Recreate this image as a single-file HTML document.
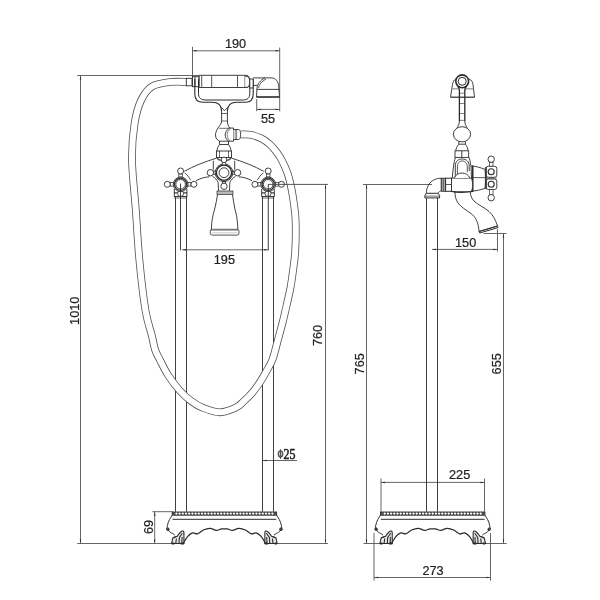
<!DOCTYPE html>
<html><head><meta charset="utf-8"><style>
html,body{margin:0;padding:0;background:#fff;}
svg{display:block;will-change:transform;}
text{font-family:"Liberation Sans",sans-serif;fill:#231f20;stroke:#231f20;stroke-width:0.25px;}
</style></head><body>
<svg width="600" height="600" viewBox="0 0 600 600">
<g fill="none" stroke="#2b2b2b" stroke-width="0.9" stroke-linecap="butt">
<g stroke="#555">
<line x1="77.2" y1="75.5" x2="199" y2="75.5"/>
<line x1="80.5" y1="75.5" x2="80.5" y2="543.5"/>
<line x1="77.2" y1="543.5" x2="183.6" y2="543.5"/>
<line x1="265.2" y1="543.5" x2="328" y2="543.5"/>
<text transform="translate(78.7,310.8) rotate(-90) scale(0.955,1)" text-anchor="middle" font-size="13.3">1010</text>
<line x1="192.5" y1="50.8" x2="279.7" y2="50.8"/>
<line x1="192.5" y1="46.8" x2="192.5" y2="77"/>
<line x1="279.7" y1="47.5" x2="279.7" y2="111.3"/>
<text transform="translate(235.5,48.3) scale(0.955,1)" text-anchor="middle" font-size="13.3">190</text>
<line x1="256.7" y1="109.4" x2="279.7" y2="109.4"/>
<line x1="256.7" y1="99" x2="256.7" y2="111.3"/>
<text transform="translate(268,122.5) scale(0.955,1)" text-anchor="middle" font-size="13.3">55</text>
<line x1="182" y1="249.8" x2="268.3" y2="249.8"/>
<text transform="translate(224.4,264.4) scale(0.955,1)" text-anchor="middle" font-size="13.3">195</text>
<line x1="325.5" y1="184.5" x2="325.5" y2="543.5"/>
<text transform="translate(322.3,335.5) rotate(-90) scale(0.955,1)" text-anchor="middle" font-size="13.3">760</text>
<line x1="262" y1="460.5" x2="297" y2="460.5"/>
<text transform="translate(152.6,527) rotate(-90) scale(0.955,1)" text-anchor="middle" font-size="13.3">69</text>
<line x1="154.7" y1="511.7" x2="154.7" y2="543.5"/>
<line x1="152.4" y1="511.7" x2="172.5" y2="511.7"/>
<text transform="translate(283.4,458.8) scale(0.88,1)" font-size="13.6" style="font-family:&quot;Liberation Serif&quot;,serif;stroke:#231f20;stroke-width:0.55">25</text>
<ellipse cx="280.5" cy="454" rx="2.1" ry="2.9" stroke-width="1.5"/>
<line x1="280.5" y1="449.2" x2="280.5" y2="458.9" stroke-width="1.1"/>
<line x1="363" y1="184.5" x2="432" y2="184.5"/>
<line x1="366.5" y1="184.5" x2="366.5" y2="543.5"/>
<line x1="363.5" y1="543.5" x2="391.8" y2="543.5"/>
<line x1="473.2" y1="543.5" x2="506.7" y2="543.5"/>
<text transform="translate(364,363.8) rotate(-90) scale(0.955,1)" text-anchor="middle" font-size="13.3">765</text>
<line x1="483.5" y1="233.5" x2="506.5" y2="233.5"/>
<line x1="503.5" y1="233.5" x2="503.5" y2="543.5"/>
<text transform="translate(501.3,363.8) rotate(-90) scale(0.955,1)" text-anchor="middle" font-size="13.3">655</text>
<line x1="432" y1="249.4" x2="497.5" y2="249.4"/>
<line x1="497.5" y1="229.2" x2="497.5" y2="251.5"/>
<text transform="translate(465.6,247.3) scale(0.955,1)" text-anchor="middle" font-size="13.3">150</text>
<line x1="381" y1="482.4" x2="484.5" y2="482.4"/>
<line x1="381" y1="478.4" x2="381" y2="511.5"/>
<line x1="484.5" y1="478.4" x2="484.5" y2="511.5"/>
<text transform="translate(459.6,478.8) scale(0.955,1)" text-anchor="middle" font-size="13.3">225</text>
<line x1="374" y1="577.5" x2="490.5" y2="577.5"/>
<line x1="374" y1="533" x2="374" y2="580.6"/>
<line x1="490.5" y1="533" x2="490.5" y2="580.6"/>
<text transform="translate(433,575.2) scale(0.955,1)" text-anchor="middle" font-size="13.3">273</text>
</g>
<rect x="172.2" y="512.0" width="104.40000000000003" height="3.2" stroke-width="0.9" fill="#555"/>
<circle cx="176.40" cy="513.6" r="1.1" fill="#fff" stroke="none"/>
<circle cx="179.60" cy="513.6" r="1.1" fill="#fff" stroke="none"/>
<circle cx="182.80" cy="513.6" r="1.1" fill="#fff" stroke="none"/>
<circle cx="186.00" cy="513.6" r="1.1" fill="#fff" stroke="none"/>
<circle cx="189.20" cy="513.6" r="1.1" fill="#fff" stroke="none"/>
<circle cx="192.40" cy="513.6" r="1.1" fill="#fff" stroke="none"/>
<circle cx="195.60" cy="513.6" r="1.1" fill="#fff" stroke="none"/>
<circle cx="198.80" cy="513.6" r="1.1" fill="#fff" stroke="none"/>
<circle cx="202.00" cy="513.6" r="1.1" fill="#fff" stroke="none"/>
<circle cx="205.20" cy="513.6" r="1.1" fill="#fff" stroke="none"/>
<circle cx="208.40" cy="513.6" r="1.1" fill="#fff" stroke="none"/>
<circle cx="211.60" cy="513.6" r="1.1" fill="#fff" stroke="none"/>
<circle cx="214.80" cy="513.6" r="1.1" fill="#fff" stroke="none"/>
<circle cx="218.00" cy="513.6" r="1.1" fill="#fff" stroke="none"/>
<circle cx="221.20" cy="513.6" r="1.1" fill="#fff" stroke="none"/>
<circle cx="224.40" cy="513.6" r="1.1" fill="#fff" stroke="none"/>
<circle cx="227.60" cy="513.6" r="1.1" fill="#fff" stroke="none"/>
<circle cx="230.80" cy="513.6" r="1.1" fill="#fff" stroke="none"/>
<circle cx="234.00" cy="513.6" r="1.1" fill="#fff" stroke="none"/>
<circle cx="237.20" cy="513.6" r="1.1" fill="#fff" stroke="none"/>
<circle cx="240.40" cy="513.6" r="1.1" fill="#fff" stroke="none"/>
<circle cx="243.60" cy="513.6" r="1.1" fill="#fff" stroke="none"/>
<circle cx="246.80" cy="513.6" r="1.1" fill="#fff" stroke="none"/>
<circle cx="250.00" cy="513.6" r="1.1" fill="#fff" stroke="none"/>
<circle cx="253.20" cy="513.6" r="1.1" fill="#fff" stroke="none"/>
<circle cx="256.40" cy="513.6" r="1.1" fill="#fff" stroke="none"/>
<circle cx="259.60" cy="513.6" r="1.1" fill="#fff" stroke="none"/>
<circle cx="262.80" cy="513.6" r="1.1" fill="#fff" stroke="none"/>
<circle cx="266.00" cy="513.6" r="1.1" fill="#fff" stroke="none"/>
<circle cx="269.20" cy="513.6" r="1.1" fill="#fff" stroke="none"/>
<circle cx="272.40" cy="513.6" r="1.1" fill="#fff" stroke="none"/>
<line x1="172.5" y1="519.3" x2="276.3" y2="519.3" stroke-width="1.0"/>
<path d="M172.2,515.2 C170.6,517.6 168.2,521 167.39999999999998,525.6 C166.89999999999998,528.2 166.6,530.2 167.79999999999998,530.4 C169.0,530.6 169.2,528.6 168.1,528.2 C167.29999999999998,527.9 168.6,531.2 170.2,532.4 C171.39999999999998,533.2 173.2,533.4 174.79999999999998,535.2" stroke-width="1.0"/>
<circle cx="167.8" cy="529.2" r="1.3" stroke-width="0.9"/>
<path d="M276.6,515.2 C278.20000000000005,517.6 280.6,521 281.40000000000003,525.6 C281.90000000000003,528.2 282.20000000000005,530.2 281.0,530.4 C279.8,530.6 279.6,528.6 280.70000000000005,528.2 C281.5,527.9 280.20000000000005,531.2 278.6,532.4 C277.40000000000003,533.2 275.6,533.4 274.0,535.2" stroke-width="1.0"/>
<circle cx="281.0" cy="529.2" r="1.3" stroke-width="0.9"/>
<path d="M171.6,543.5 L172.79999999999998,538 C173.39999999999998,537 175.2,536.6 177.2,536.2 C178.7,534 180.2,532 181.7,531.2 C183.0,530.6 183.79999999999998,531 183.89999999999998,532.5 L184.0,543.5 Z" stroke-width="1.1" fill="#e8e8e8"/>
<path d="M172.79999999999998,538 L177.2,536.2 M175.79999999999998,543.5 L176.39999999999998,538.5 M179.0,543.5 L179.39999999999998,537.5 L182.39999999999998,533.2 M181.79999999999998,543.5 L182.1,537" stroke-width="1.1"/>
<path d="M171.79999999999998,543.5 L174.2,543.5 M180.7,543.5 L184.0,543.5" stroke-width="1.8"/>
<path d="M277.20000000000005,543.5 L276.0,538 C275.40000000000003,537 273.6,536.6 271.6,536.2 C270.1,534 268.6,532 267.1,531.2 C265.8,530.6 265.0,531 264.90000000000003,532.5 L264.8,543.5 Z" stroke-width="1.1" fill="#e8e8e8"/>
<path d="M276.0,538 L271.6,536.2 M273.0,543.5 L272.40000000000003,538.5 M269.8,543.5 L269.40000000000003,537.5 L266.40000000000003,533.2 M267.0,543.5 L266.70000000000005,537" stroke-width="1.1"/>
<path d="M277.0,543.5 L274.6,543.5 M268.1,543.5 L264.8,543.5" stroke-width="1.8"/>
<path d="M183.30,543.40 C184.00,542.28 185.97,538.45 187.50,536.70 C189.03,534.95 190.83,533.38 192.50,532.90 C194.17,532.42 195.70,534.28 197.50,533.80 C199.30,533.32 201.22,530.92 203.30,530.00 C205.38,529.08 207.84,528.23 210.00,528.30 C212.16,528.37 214.35,530.30 216.25,530.40 C218.15,530.50 220.04,529.15 221.40,528.90 C222.76,528.65 223.40,528.90 224.40,528.90 C225.40,528.90 226.04,528.65 227.40,528.90 C228.76,529.15 230.65,530.50 232.55,530.40 C234.45,530.30 236.64,528.37 238.80,528.30 C240.96,528.23 243.42,529.08 245.50,530.00 C247.58,530.92 249.50,533.32 251.30,533.80 C253.10,534.28 254.63,532.42 256.30,532.90 C257.97,533.38 259.77,534.95 261.30,536.70 C262.83,538.45 264.80,542.28 265.50,543.40" stroke-width="1.2"/>
<rect x="380.5" y="512.0" width="104.40000000000003" height="3.2" stroke-width="0.9" fill="#555"/>
<circle cx="384.70" cy="513.6" r="1.1" fill="#fff" stroke="none"/>
<circle cx="387.90" cy="513.6" r="1.1" fill="#fff" stroke="none"/>
<circle cx="391.10" cy="513.6" r="1.1" fill="#fff" stroke="none"/>
<circle cx="394.30" cy="513.6" r="1.1" fill="#fff" stroke="none"/>
<circle cx="397.50" cy="513.6" r="1.1" fill="#fff" stroke="none"/>
<circle cx="400.70" cy="513.6" r="1.1" fill="#fff" stroke="none"/>
<circle cx="403.90" cy="513.6" r="1.1" fill="#fff" stroke="none"/>
<circle cx="407.10" cy="513.6" r="1.1" fill="#fff" stroke="none"/>
<circle cx="410.30" cy="513.6" r="1.1" fill="#fff" stroke="none"/>
<circle cx="413.50" cy="513.6" r="1.1" fill="#fff" stroke="none"/>
<circle cx="416.70" cy="513.6" r="1.1" fill="#fff" stroke="none"/>
<circle cx="419.90" cy="513.6" r="1.1" fill="#fff" stroke="none"/>
<circle cx="423.10" cy="513.6" r="1.1" fill="#fff" stroke="none"/>
<circle cx="426.30" cy="513.6" r="1.1" fill="#fff" stroke="none"/>
<circle cx="429.50" cy="513.6" r="1.1" fill="#fff" stroke="none"/>
<circle cx="432.70" cy="513.6" r="1.1" fill="#fff" stroke="none"/>
<circle cx="435.90" cy="513.6" r="1.1" fill="#fff" stroke="none"/>
<circle cx="439.10" cy="513.6" r="1.1" fill="#fff" stroke="none"/>
<circle cx="442.30" cy="513.6" r="1.1" fill="#fff" stroke="none"/>
<circle cx="445.50" cy="513.6" r="1.1" fill="#fff" stroke="none"/>
<circle cx="448.70" cy="513.6" r="1.1" fill="#fff" stroke="none"/>
<circle cx="451.90" cy="513.6" r="1.1" fill="#fff" stroke="none"/>
<circle cx="455.10" cy="513.6" r="1.1" fill="#fff" stroke="none"/>
<circle cx="458.30" cy="513.6" r="1.1" fill="#fff" stroke="none"/>
<circle cx="461.50" cy="513.6" r="1.1" fill="#fff" stroke="none"/>
<circle cx="464.70" cy="513.6" r="1.1" fill="#fff" stroke="none"/>
<circle cx="467.90" cy="513.6" r="1.1" fill="#fff" stroke="none"/>
<circle cx="471.10" cy="513.6" r="1.1" fill="#fff" stroke="none"/>
<circle cx="474.30" cy="513.6" r="1.1" fill="#fff" stroke="none"/>
<circle cx="477.50" cy="513.6" r="1.1" fill="#fff" stroke="none"/>
<circle cx="480.70" cy="513.6" r="1.1" fill="#fff" stroke="none"/>
<line x1="380.8" y1="519.3" x2="484.6" y2="519.3" stroke-width="1.0"/>
<path d="M380.5,515.2 C378.9,517.6 376.5,521 375.7,525.6 C375.2,528.2 374.9,530.2 376.1,530.4 C377.3,530.6 377.5,528.6 376.4,528.2 C375.6,527.9 376.9,531.2 378.5,532.4 C379.7,533.2 381.5,533.4 383.1,535.2" stroke-width="1.0"/>
<circle cx="376.1" cy="529.2" r="1.3" stroke-width="0.9"/>
<path d="M484.90000000000003,515.2 C486.50000000000006,517.6 488.90000000000003,521 489.70000000000005,525.6 C490.20000000000005,528.2 490.50000000000006,530.2 489.3,530.4 C488.1,530.6 487.90000000000003,528.6 489.00000000000006,528.2 C489.8,527.9 488.50000000000006,531.2 486.90000000000003,532.4 C485.70000000000005,533.2 483.90000000000003,533.4 482.3,535.2" stroke-width="1.0"/>
<circle cx="489.3" cy="529.2" r="1.3" stroke-width="0.9"/>
<path d="M379.9,543.5 L381.1,538 C381.7,537 383.5,536.6 385.5,536.2 C387.0,534 388.5,532 390.0,531.2 C391.3,530.6 392.1,531 392.2,532.5 L392.3,543.5 Z" stroke-width="1.1" fill="#e8e8e8"/>
<path d="M381.1,538 L385.5,536.2 M384.1,543.5 L384.7,538.5 M387.3,543.5 L387.7,537.5 L390.7,533.2 M390.1,543.5 L390.4,537" stroke-width="1.1"/>
<path d="M380.1,543.5 L382.5,543.5 M389.0,543.5 L392.3,543.5" stroke-width="1.8"/>
<path d="M485.50000000000006,543.5 L484.3,538 C483.70000000000005,537 481.90000000000003,536.6 479.90000000000003,536.2 C478.40000000000003,534 476.90000000000003,532 475.40000000000003,531.2 C474.1,530.6 473.3,531 473.20000000000005,532.5 L473.1,543.5 Z" stroke-width="1.1" fill="#e8e8e8"/>
<path d="M484.3,538 L479.90000000000003,536.2 M481.3,543.5 L480.70000000000005,538.5 M478.1,543.5 L477.70000000000005,537.5 L474.70000000000005,533.2 M475.3,543.5 L475.00000000000006,537" stroke-width="1.1"/>
<path d="M485.3,543.5 L482.90000000000003,543.5 M476.40000000000003,543.5 L473.1,543.5" stroke-width="1.8"/>
<path d="M391.60,543.40 C392.30,542.28 394.27,538.45 395.80,536.70 C397.33,534.95 399.13,533.38 400.80,532.90 C402.47,532.42 404.00,534.28 405.80,533.80 C407.60,533.32 409.52,530.92 411.60,530.00 C413.68,529.08 416.14,528.23 418.30,528.30 C420.46,528.37 422.65,530.30 424.55,530.40 C426.45,530.50 428.34,529.15 429.70,528.90 C431.06,528.65 431.70,528.90 432.70,528.90 C433.70,528.90 434.34,528.65 435.70,528.90 C437.06,529.15 438.95,530.50 440.85,530.40 C442.75,530.30 444.94,528.37 447.10,528.30 C449.26,528.23 451.72,529.08 453.80,530.00 C455.88,530.92 457.80,533.32 459.60,533.80 C461.40,534.28 462.93,532.42 464.60,532.90 C466.27,533.38 468.07,534.95 469.60,536.70 C471.13,538.45 473.10,542.28 473.80,543.40" stroke-width="1.2"/>
<line x1="175.5" y1="193" x2="175.5" y2="511.7"/>
<line x1="186.5" y1="193" x2="186.5" y2="511.7"/>
<line x1="262.5" y1="193" x2="262.5" y2="511.7"/>
<line x1="273.5" y1="193" x2="273.5" y2="511.7"/>
<path d="M187.00,82.00 C184.17,82.00 175.83,81.25 170.00,82.00 C164.17,82.75 156.83,83.42 152.00,86.50 C147.17,89.58 143.92,94.25 141.00,100.50 C138.08,106.75 136.00,114.08 134.50,124.00 C133.00,133.92 131.78,145.67 132.00,160.00 C132.22,174.33 134.57,193.33 135.80,210.00 C137.03,226.67 137.80,243.33 139.40,260.00 C141.00,276.67 143.35,297.50 145.40,310.00 C147.45,322.50 150.07,328.33 151.70,335.00 C153.33,341.67 153.82,345.83 155.20,350.00 C156.58,354.17 157.87,355.83 160.00,360.00 C162.13,364.17 164.68,369.88 168.00,375.00 C171.32,380.12 175.98,386.32 179.90,390.70 C183.82,395.08 187.65,398.45 191.50,401.30 C195.35,404.15 198.25,405.97 203.00,407.80 C207.75,409.63 214.50,412.33 220.00,412.30 C225.50,412.27 232.00,409.48 236.00,407.60 C240.00,405.72 241.22,403.57 244.00,401.00 C246.78,398.43 250.03,395.33 252.70,392.20 C255.37,389.07 257.85,385.45 260.00,382.20 C262.15,378.95 263.52,376.48 265.60,372.70 C267.68,368.92 270.45,364.95 272.50,359.50 C274.55,354.05 276.22,346.17 277.90,340.00 C279.58,333.83 281.13,328.33 282.60,322.50 C284.07,316.67 285.38,310.83 286.70,305.00 C288.02,299.17 289.43,293.33 290.50,287.50 C291.57,281.67 292.30,276.25 293.10,270.00 C293.90,263.75 294.88,258.33 295.30,250.00 C295.72,241.67 295.85,227.83 295.60,220.00 C295.35,212.17 294.45,208.00 293.80,203.00 C293.15,198.00 292.50,194.17 291.70,190.00 C290.90,185.83 289.90,181.33 289.00,178.00 C288.10,174.67 287.43,172.83 286.30,170.00 C285.17,167.17 283.70,163.83 282.20,161.00 C280.70,158.17 279.33,155.75 277.30,153.00 C275.27,150.25 272.72,146.95 270.00,144.50 C267.28,142.05 264.25,139.92 261.00,138.30 C257.75,136.68 253.83,135.45 250.50,134.80 C247.17,134.15 242.58,134.47 241.00,134.40" stroke-width="7.7" stroke="#505050"/>
<path d="M187.00,82.00 C184.17,82.00 175.83,81.25 170.00,82.00 C164.17,82.75 156.83,83.42 152.00,86.50 C147.17,89.58 143.92,94.25 141.00,100.50 C138.08,106.75 136.00,114.08 134.50,124.00 C133.00,133.92 131.78,145.67 132.00,160.00 C132.22,174.33 134.57,193.33 135.80,210.00 C137.03,226.67 137.80,243.33 139.40,260.00 C141.00,276.67 143.35,297.50 145.40,310.00 C147.45,322.50 150.07,328.33 151.70,335.00 C153.33,341.67 153.82,345.83 155.20,350.00 C156.58,354.17 157.87,355.83 160.00,360.00 C162.13,364.17 164.68,369.88 168.00,375.00 C171.32,380.12 175.98,386.32 179.90,390.70 C183.82,395.08 187.65,398.45 191.50,401.30 C195.35,404.15 198.25,405.97 203.00,407.80 C207.75,409.63 214.50,412.33 220.00,412.30 C225.50,412.27 232.00,409.48 236.00,407.60 C240.00,405.72 241.22,403.57 244.00,401.00 C246.78,398.43 250.03,395.33 252.70,392.20 C255.37,389.07 257.85,385.45 260.00,382.20 C262.15,378.95 263.52,376.48 265.60,372.70 C267.68,368.92 270.45,364.95 272.50,359.50 C274.55,354.05 276.22,346.17 277.90,340.00 C279.58,333.83 281.13,328.33 282.60,322.50 C284.07,316.67 285.38,310.83 286.70,305.00 C288.02,299.17 289.43,293.33 290.50,287.50 C291.57,281.67 292.30,276.25 293.10,270.00 C293.90,263.75 294.88,258.33 295.30,250.00 C295.72,241.67 295.85,227.83 295.60,220.00 C295.35,212.17 294.45,208.00 293.80,203.00 C293.15,198.00 292.50,194.17 291.70,190.00 C290.90,185.83 289.90,181.33 289.00,178.00 C288.10,174.67 287.43,172.83 286.30,170.00 C285.17,167.17 283.70,163.83 282.20,161.00 C280.70,158.17 279.33,155.75 277.30,153.00 C275.27,150.25 272.72,146.95 270.00,144.50 C267.28,142.05 264.25,139.92 261.00,138.30 C257.75,136.68 253.83,135.45 250.50,134.80 C247.17,134.15 242.58,134.47 241.00,134.40" stroke-width="6.1" stroke="#fff"/>
<rect x="186.3" y="78.3" width="5.7" height="7.5" fill="#fff"/>
<rect x="192.5" y="76.7" width="6.5" height="10" fill="#fff"/>
<line x1="195" y1="76.7" x2="195" y2="86.7"/>
<path d="M194.8,79 L194.8,94 C194.8,99.5 197.5,102.3 203,102.3 L212,102.3 C218.5,102.3 221.5,105 221.6,111 M227.4,111 C227.5,105 230.5,102.3 237,102.3 L245.5,102.3 C251,102.3 253.2,99.5 253.2,94 L253.2,79" stroke-width="1.1"/>
<path d="M198.5,79 L198.5,93.5 C198.5,98 201,100 206,100 L242.5,100 C247.5,100 249.8,98 249.8,93.5 L249.8,79" stroke-width="1.0"/>
<path d="M199.2,75.3 L246,75.3 C249,75.3 249.5,77 249.5,81.4 C249.5,85.8 249,87.5 246,87.5 L199.2,87.5 Z" fill="#fff"/>
<line x1="201.7" y1="75.6" x2="201.7" y2="87.2" stroke-width="0.8"/>
<line x1="211.7" y1="75.6" x2="211.7" y2="87.2" stroke-width="0.8"/>
<line x1="237.5" y1="75.6" x2="237.5" y2="87.2" stroke-width="0.8"/>
<line x1="245" y1="75.6" x2="245" y2="87.2" stroke-width="0.8"/>
<path d="M245.3,76.4 L247,76.4 C249,76.4 249.6,79 249.6,81.8 C249.6,84.6 249,87.3 247,87.3 L245.3,87.3" fill="#fff"/>
<rect x="249.8" y="79" width="3.3" height="9" fill="#fff"/>
<path d="M256.5,97 L257,88 C257.5,84 260,80.5 264.8,77.9 L271.5,77.9 C276,77.9 278.6,82 278.8,87.3 L279.5,97 Z" fill="#fff"/>
<line x1="253" y1="77.9" x2="265" y2="77.9"/>
<line x1="253" y1="85.4" x2="257.2" y2="85.4"/>
<path d="M258.6,88 C259,84.5 261.5,81.5 266,79.2" stroke-width="0.8"/>
<line x1="256.8" y1="89.4" x2="279.2" y2="89.4"/>
<line x1="256.5" y1="97" x2="279.5" y2="97" stroke-width="1.3"/>
<path d="M221.6,110.5 L221.6,121 M227.4,110.5 L227.4,121"/>
<path d="M221.6,107.5 L224.5,110.8 L227.4,107.5" stroke-width="0.8"/>
<line x1="221.5" y1="113.5" x2="227.5" y2="113.5" stroke-width="0.7"/>
<line x1="221.5" y1="121" x2="227.5" y2="121" stroke-width="0.7"/>
<path d="M221.6,121 C221.6,124 219.5,125.5 218,128 C216.2,131 215.5,133 215.5,135 C215.5,138 217,140 219.5,141.2"/>
<path d="M227.4,121 C227.4,124 228.5,126 229.5,128"/>
<line x1="219.2" y1="128.3" x2="229.5" y2="128.3" stroke-width="0.7"/>
<path d="M229.5,128 L233.5,128 L233.5,141.2 L219.5,141.2" fill="none"/>
<path d="M229.5,128 C226.5,130 225.2,132.5 225.2,134.8 C225.2,137.5 226.5,139.5 228.5,141.2"/>
<path d="M231,128.3 C228.3,130.3 227.2,132.5 227.2,134.8 C227.2,137.3 228.3,139.3 230,141" stroke-width="0.6"/>
<path d="M233.5,129.5 L238.3,129.5 C240,129.5 240.6,131 240.6,134.5 C240.6,138 240,139.5 238.3,139.5 L233.5,139.5" fill="#fff"/>
<line x1="235.2" y1="129.5" x2="235.2" y2="139.5" stroke-width="0.6"/>
<line x1="236.6" y1="129.5" x2="236.6" y2="139.5" stroke-width="0.6"/>
<path d="M219.5,141 L219.5,144.5 L228.5,144.5 L228.5,141"/>
<path d="M219.5,144.5 C218,146.5 217,149 217,151 M228.5,144.5 C230,146.5 231,149 231,151"/>
<rect x="216.5" y="151" width="15" height="6.5" fill="#fff"/>
<line x1="219.5" y1="151" x2="219.5" y2="157.5" stroke-width="0.7"/>
<line x1="228.5" y1="151" x2="228.5" y2="157.5" stroke-width="0.7"/>
<path d="M216.5,157.5 L218.5,160 L229.5,160 L231.5,157.5"/>
<path d="M184.3,171.3 C194,166 204,162 216.3,158.2"/>
<path d="M196,180.7 C200,178.5 205,177 209.5,176.8"/>
<path d="M263.7,171.3 C254,166 244,162 231.7,158.2"/>
<path d="M252,180.7 C248,178.5 243,177 238.5,176.8"/>
<path d="M213.3,160.8 L213.3,169.6 M234.7,160.8 L234.7,169.6"/>
<path d="M212.4,176.2 C215,178 217.4,180 218.1,182.3 L218.6,190.8 M235.6,176.2 C233,178 230.6,180 229.9,182.3 L229.4,190.8"/>
<path d="M216.3,157.3 L220.6,160.6 M231.7,157.3 L227.4,160.6" stroke-width="0.8"/>
<path d="M184.6,173 C187,174.5 189,177 190.6,180.2" stroke-width="0.8"/>
<path d="M263.4,173 C261,174.5 259,177 257.4,180.2" stroke-width="0.8"/>
<path d="M174.29999999999998,189 L174.29999999999998,193 L186.9,193 L186.9,189" fill="#fff"/>
<rect x="174.29999999999998" y="193" width="12.6" height="3.5" fill="#fff"/>
<line x1="174.29999999999998" y1="198" x2="186.9" y2="198" stroke-width="0.7"/>
<circle cx="180.6" cy="193.5" r="3" stroke-width="0.8" fill="#fff"/>
<path d="M261.7,189 L261.7,193 L274.3,193 L274.3,189" fill="#fff"/>
<rect x="261.7" y="193" width="12.6" height="3.5" fill="#fff"/>
<line x1="261.7" y1="198" x2="274.3" y2="198" stroke-width="0.7"/>
<circle cx="268.0" cy="193.5" r="3" stroke-width="0.8" fill="#fff"/>
<rect x="170.29999999999998" y="182.5" width="3.000000000000001" height="3.6" stroke-width="0.7" fill="#fff"/>
<circle cx="167.29999999999998" cy="184.3" r="3.0" stroke-width="0.9" fill="#fff"/>
<rect x="187.9" y="182.5" width="3.000000000000001" height="3.6" stroke-width="0.7" fill="#fff"/>
<circle cx="193.9" cy="184.3" r="3.0" stroke-width="0.9" fill="#fff"/>
<rect x="178.79999999999998" y="174.0" width="3.6" height="3.000000000000001" stroke-width="0.7" fill="#fff"/>
<circle cx="180.6" cy="171.0" r="3.0" stroke-width="0.9" fill="#fff"/>
<circle cx="180.6" cy="184.3" r="7.3" stroke-width="0.9" fill="#fff"/>
<circle cx="180.6" cy="184.3" r="6.1" stroke-width="1.2"/>
<circle cx="180.6" cy="184.3" r="4.8" stroke-width="0.9" fill="#fff"/>
<rect x="257.9" y="182.5" width="3.000000000000001" height="3.6" stroke-width="0.7" fill="#fff"/>
<circle cx="254.89999999999998" cy="184.3" r="3.0" stroke-width="0.9" fill="#fff"/>
<rect x="275.5" y="182.5" width="3.000000000000001" height="3.6" stroke-width="0.7" fill="#fff"/>
<circle cx="281.5" cy="184.3" r="3.0" stroke-width="0.9" fill="#fff"/>
<rect x="266.4" y="174.0" width="3.6" height="3.000000000000001" stroke-width="0.7" fill="#fff"/>
<circle cx="268.2" cy="171.0" r="3.0" stroke-width="0.9" fill="#fff"/>
<circle cx="268.2" cy="184.3" r="7.3" stroke-width="0.9" fill="#fff"/>
<circle cx="268.2" cy="184.3" r="6.1" stroke-width="1.2"/>
<circle cx="268.2" cy="184.3" r="4.8" stroke-width="0.9" fill="#fff"/>
<rect x="213.6" y="170.89999999999998" width="1.5999999999999988" height="3.6" stroke-width="0.7" fill="#fff"/>
<circle cx="210.4" cy="172.7" r="3.2" stroke-width="0.9" fill="#fff"/>
<rect x="232.8" y="170.89999999999998" width="1.5999999999999988" height="3.6" stroke-width="0.7" fill="#fff"/>
<circle cx="237.6" cy="172.7" r="3.2" stroke-width="0.9" fill="#fff"/>
<rect x="222.2" y="181.5" width="3.6" height="1.5999999999999988" stroke-width="0.7" fill="#fff"/>
<circle cx="224.0" cy="186.29999999999998" r="3.2" stroke-width="0.9" fill="#fff"/>
<circle cx="224.0" cy="172.7" r="8.8" stroke-width="0.9" fill="#fff"/>
<circle cx="224.0" cy="172.7" r="7.6000000000000005" stroke-width="1.3"/>
<circle cx="224.0" cy="172.7" r="4.9" stroke-width="0.9" fill="#fff"/>
<circle cx="224" cy="159.9" r="2.8" fill="#fff"/>
<rect x="222.2" y="162.7" width="3.6" height="2.2" stroke-width="0.7" fill="#fff"/>
<line x1="180.5" y1="183.5" x2="180.5" y2="250.2"/>
<line x1="268.3" y1="184.2" x2="268.3" y2="250.2"/>
<rect x="217" y="191" width="16" height="3.6" stroke-width="0.7" fill="#b8b8b8"/>
<path d="M217.5,194.6 C217,199 215.8,204 214.7,209 C213.2,214 211.6,220 211.4,229.3 M232.5,194.6 C233,199 234,204 234.9,209 C236.3,214 237.6,220 237.8,229.3"/>
<rect x="210.2" y="229.3" width="28.8" height="5.8" stroke-width="0.8" fill="#fff" rx="2"/>
<line x1="211" y1="230.5" x2="238.2" y2="230.5" stroke-width="0.6" stroke="#777"/>
<line x1="211.5" y1="232.8" x2="237.5" y2="232.8" stroke-width="0.5" stroke="#999"/>
<line x1="426.5" y1="197.5" x2="426.5" y2="511.7"/>
<line x1="437.5" y1="197.5" x2="437.5" y2="511.7"/>
<path d="M426.3,193.3 L438.2,193.3 L439.6,195.6 L439.6,197.9 L424.9,197.9 L424.9,195.6 Z" stroke-width="1.0" fill="#fff"/>
<line x1="425" y1="196.1" x2="439.5" y2="196.1" stroke-width="0.7"/>
<path d="M426.3,193.3 C426.5,187 429.5,180 438.5,178.4 L441.3,178.3 L441.3,190.8 C440,191 438.6,192 438.2,193.3"/>
<rect x="441.3" y="178.2" width="4.3" height="13.1" stroke-width="0.8" fill="#aaa"/>
<line x1="443.4" y1="178.2" x2="443.4" y2="191.3" stroke-width="0.6"/>
<rect x="445.6" y="178.2" width="5.9" height="13.1" stroke-width="1.0" fill="#fff"/>
<line x1="445.6" y1="184.5" x2="451.5" y2="184.5" stroke-width="0.8"/>
<path d="M455.4,157.4 C454.6,160 453.9,163 453.6,166 C453,170 452.5,174 452.3,178 M469.1,157.4 C469.8,159.5 470.4,162 470.7,165.6"/>
<path d="M455.3,177 L455.3,166 C455.3,161.5 458,159 462.2,159 C466.4,159 469.2,161.5 469.2,166 L469.2,171"/>
<path d="M457.4,177 L457.4,167 C457.4,163.2 459.3,161 462.2,161 C465.1,161 467.3,163.2 467.3,167 L467.3,172.3" stroke-width="0.8"/>
<path d="M471,165.8 C476,166.3 481,167.8 485,169.3 C485.6,175 485.6,183 485,188.5 C481,189.8 476,190.8 472,191.3 Z" fill="#fff"/>
<line x1="472.8" y1="177.6" x2="485.3" y2="177.6" stroke-width="0.8"/>
<line x1="472.7" y1="165.5" x2="472.7" y2="191.3" stroke-width="1.6"/>
<path d="M451.5,178.1 L471.3,178.1 C472.3,180 472.6,182.5 472.6,184.8 C472.6,187.5 472.3,189.5 471.3,191.5 L451.5,191.5 Z" fill="#fff"/>
<path d="M454.3,178 C455.5,175 458.5,173 462,173 C465.5,173 468.5,175 469.9,178" fill="#fff"/>
<path d="M455,191.8 C455,196 455.5,199 458,203 C461,207 466,210 471,213.5 C475.5,217 478.5,222 479,231.5 L497.5,226 C495.5,220 493,215 489,211.5 C484,207 478,205 474,201 C471.5,198.5 470.5,195.5 470.3,191.8" fill="#fff"/>
<path d="M479,231.5 L497.5,226 M479.6,233 L498,227.6" stroke-width="1.0"/>
<path d="M479,231.5 L479.6,233 M497.5,226 L498,227.6" stroke-width="0.8"/>
<path d="M451.3,191.3 C455,192.8 468,192.8 473,191.3" stroke-width="1.2"/>
<circle cx="491.2" cy="159.2" r="3.2" fill="#fff"/>
<rect x="489.4" y="162.5" width="3.6" height="3.8" stroke-width="0.7" fill="#fff"/>
<rect x="486" y="166.3" width="10.8" height="11" stroke-width="0.9" fill="#fff" rx="2.2"/>
<circle cx="491.2" cy="171.8" r="3.0" stroke-width="1.1"/>
<rect x="486" y="179" width="10.8" height="10.5" stroke-width="0.9" fill="#fff" rx="2.2"/>
<circle cx="491.2" cy="184.3" r="3.0" stroke-width="1.1"/>
<line x1="486" y1="178.1" x2="496.8" y2="178.1" stroke-width="0.7"/>
<line x1="486" y1="167" x2="486" y2="189" stroke-width="1.4"/>
<rect x="489.4" y="189.5" width="3.6" height="5" stroke-width="0.7" fill="#fff"/>
<circle cx="491.2" cy="197.7" r="3.2" fill="#fff"/>
<path d="M450.5,97.2 L452.5,84.5 C453,81.5 454,80 455.8,79 M474.5,97.2 L473,84.5 C472.5,81.5 471.5,80 469,79"/>
<line x1="450.5" y1="97.2" x2="474.5" y2="97.2" stroke-width="1.2"/>
<line x1="451.8" y1="88.8" x2="459.4" y2="88.8" stroke-width="1.3" stroke="#999"/>
<line x1="464.8" y1="88.8" x2="473.3" y2="88.8" stroke-width="1.3" stroke="#999"/>
<path d="M459.4,90 C459.4,88 458.5,87 457.5,86.2 M464.8,90 C464.8,88 465.7,87 466.7,86.2" stroke-width="1.2"/>
<circle cx="462.2" cy="81.3" r="6.4" stroke-width="1.6" fill="#fff"/>
<circle cx="462.2" cy="81.3" r="4.0" stroke-width="1.0"/>
<path d="M459.4,89.5 L459.4,121 M464.8,89.5 L464.8,121" stroke-width="1.3"/>
<line x1="459.4" y1="93.2" x2="464.8" y2="93.2" stroke-width="0.6"/>
<line x1="459.4" y1="103.5" x2="464.8" y2="103.5" stroke-width="0.6"/>
<line x1="459.4" y1="113.5" x2="464.8" y2="113.5" stroke-width="0.6"/>
<line x1="459.4" y1="120.4" x2="464.8" y2="120.4" stroke-width="0.6"/>
<path d="M459.4,121 C459.4,124 458,126 457,127.8 M464.8,121 C464.8,124 466,126 467.2,127.8"/>
<line x1="458" y1="127.5" x2="466" y2="127.5" stroke-width="0.8"/>
<ellipse cx="462" cy="134.3" rx="8.6" ry="7.6" fill="#fff"/>
<path d="M458.8,141.7 L458.8,144.2 L465.4,144.2 L465.4,141.7"/>
<path d="M458.8,144.2 C457,146 456,148.5 455.8,150.8 M465.4,144.2 C467,146 468,148.5 467.9,150.8"/>
<rect x="455" y="150.8" width="13.7" height="6.6" fill="#fff"/>
<line x1="461.8" y1="150.8" x2="461.8" y2="157.4"/>
<path d="M80.50,75.90 L79.75,79.50 L81.25,79.50 Z" fill="#2b2b2b" stroke="none"/>
<path d="M80.50,543.10 L79.75,539.50 L81.25,539.50 Z" fill="#2b2b2b" stroke="none"/>
<path d="M192.90,50.80 L196.50,50.05 L196.50,51.55 Z" fill="#2b2b2b" stroke="none"/>
<path d="M279.30,50.80 L275.70,50.05 L275.70,51.55 Z" fill="#2b2b2b" stroke="none"/>
<path d="M257.10,109.40 L260.70,108.65 L260.70,110.15 Z" fill="#2b2b2b" stroke="none"/>
<path d="M279.30,109.40 L275.70,108.65 L275.70,110.15 Z" fill="#2b2b2b" stroke="none"/>
<path d="M182.40,249.80 L186.00,249.05 L186.00,250.55 Z" fill="#2b2b2b" stroke="none"/>
<path d="M267.90,249.80 L264.30,249.05 L264.30,250.55 Z" fill="#2b2b2b" stroke="none"/>
<path d="M325.50,184.90 L324.75,188.50 L326.25,188.50 Z" fill="#2b2b2b" stroke="none"/>
<path d="M325.50,543.10 L324.75,539.50 L326.25,539.50 Z" fill="#2b2b2b" stroke="none"/>
<path d="M154.70,512.10 L153.95,515.70 L155.45,515.70 Z" fill="#2b2b2b" stroke="none"/>
<path d="M154.70,543.10 L153.95,539.50 L155.45,539.50 Z" fill="#2b2b2b" stroke="none"/>
<path d="M366.50,184.90 L365.75,188.50 L367.25,188.50 Z" fill="#2b2b2b" stroke="none"/>
<path d="M366.50,543.10 L365.75,539.50 L367.25,539.50 Z" fill="#2b2b2b" stroke="none"/>
<path d="M503.50,233.90 L502.75,237.50 L504.25,237.50 Z" fill="#2b2b2b" stroke="none"/>
<path d="M503.50,543.10 L502.75,539.50 L504.25,539.50 Z" fill="#2b2b2b" stroke="none"/>
<path d="M432.40,249.40 L436.00,248.65 L436.00,250.15 Z" fill="#2b2b2b" stroke="none"/>
<path d="M497.10,249.40 L493.50,248.65 L493.50,250.15 Z" fill="#2b2b2b" stroke="none"/>
<path d="M381.40,482.40 L385.00,481.65 L385.00,483.15 Z" fill="#2b2b2b" stroke="none"/>
<path d="M484.10,482.40 L480.50,481.65 L480.50,483.15 Z" fill="#2b2b2b" stroke="none"/>
<path d="M374.40,577.50 L378.00,576.75 L378.00,578.25 Z" fill="#2b2b2b" stroke="none"/>
<path d="M490.10,577.50 L486.50,576.75 L486.50,578.25 Z" fill="#2b2b2b" stroke="none"/>
<path d="M262.90,460.50 L266.50,459.75 L266.50,461.25 Z" fill="#2b2b2b" stroke="none"/>
<line x1="268.2" y1="184.4" x2="328" y2="184.4" stroke="#444"/>
</g>
</svg>
</body></html>
